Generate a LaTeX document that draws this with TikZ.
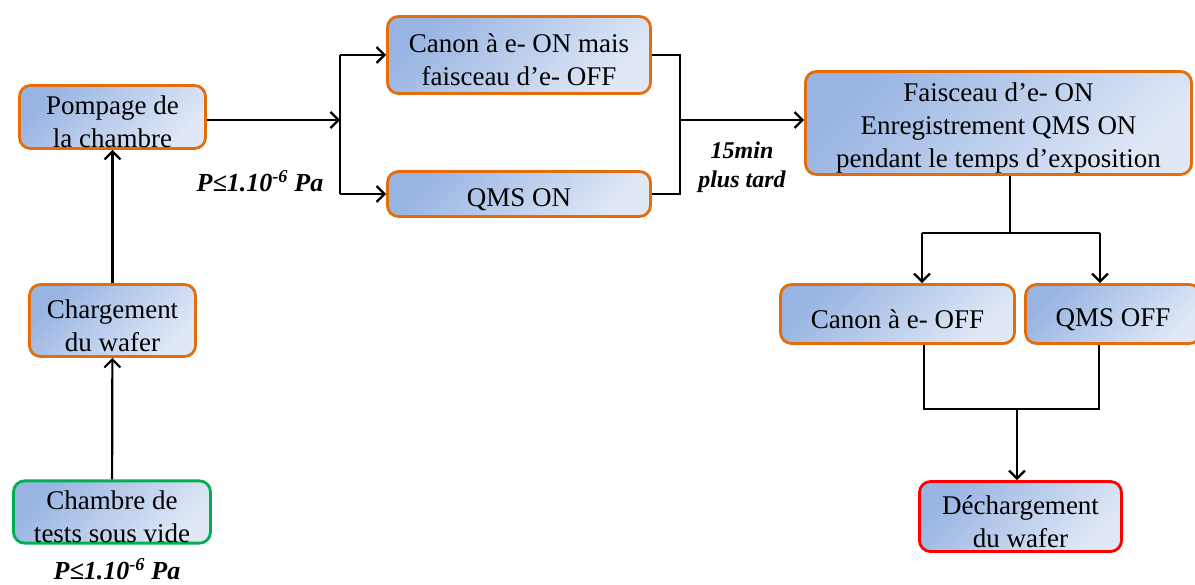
\documentclass[tikz,border=0pt]{standalone}
\usepackage{fontspec}
\setmainfont{Liberation Serif}
\usetikzlibrary{arrows.meta,positioning,calc}
\definecolor{StepOrange}{RGB}{228,108,10}
\definecolor{StepGreen}{RGB}{0,176,80}
\definecolor{StepRed}{RGB}{255,0,0}
\definecolor{FillDark}{RGB}{152,180,226}
\definecolor{FillLight}{RGB}{224,232,246}
\newcommand{\boxlift}{\rule{0pt}{29pt}}

\begin{document}
\begin{tikzpicture}[x=1pt,y=-1pt,
  stepbox/.style={draw=StepOrange,line width=2.8pt,rounded corners=11pt,
    top color=FillDark,bottom color=FillLight,shading angle=45,
    align=center,inner sep=0pt,font=\fontsize{27}{33}\selectfont},
  note/.style={align=center,font=\fontsize{24}{29}\selectfont\bfseries\itshape},
  link/.style={line width=2.2pt},
  arr/.style={link,-{Straight Barb[length=8pt,width=16pt,line width=2.2pt]}}
]
  \useasboundingbox (0,0) rectangle (1195,585);

  % left column
  \node[stepbox,draw=StepGreen,minimum width=197pt,minimum height=59pt] (chambre) at (112,512) {\boxlift Chambre de\\tests sous vide};
  \node[stepbox,minimum width=166pt,minimum height=72pt] (charge) at (112.5,320.5) {\boxlift Chargement\\du wafer};
  \node[stepbox,minimum width=186pt,minimum height=63pt] (pompe) at (112.5,117) {\boxlift Pompage de\\la chambre};
  \node[note,font=\fontsize{26}{29}\selectfont\bfseries\itshape] (p1) at (117,569) {P≤1.10\textsuperscript{-6} Pa};

  % middle column
  \node[stepbox,minimum width=263pt,minimum height=77pt] (canon) at (519,55) {\boxlift Canon à e- ON mais\\faisceau d’e- OFF};
  \node[stepbox,minimum width=263pt,minimum height=45pt] (qmson) at (519,194) {\boxlift QMS ON};
  \node[note,font=\fontsize{26}{29}\selectfont\bfseries\itshape] (p2) at (260,181) {P≤1.10\textsuperscript{-6} Pa};
  \node[note] (delai) at (742,167) {15min\\plus tard};

  % right column
  \node[stepbox,minimum width=386pt,minimum height=103pt] (faisceau) at (998.5,123) {\boxlift Faisceau d’e- ON\\Enregistrement QMS ON\\pendant le temps d’exposition};
  \node[stepbox,minimum width=234pt,minimum height=59pt] (canonoff) at (897.5,314) {\boxlift Canon à e- OFF};
  \node[stepbox,minimum width=175pt,minimum height=59pt] (qmsoff) at (1113,314) {\boxlift QMS OFF};
  \node[stepbox,draw=StepRed,minimum width=202pt,minimum height=70pt] (decharge) at (1020.5,516.5) {\boxlift Déchargement\\du wafer};

  \coordinate (busL) at (340,120);
  \coordinate (busR) at (680,120);
  \coordinate (split) at (1010,233);
  \coordinate (join) at (1017,409);

  \draw[arr] (chambre) -- (charge);
  \draw[arr] (charge) -- (pompe);
  \draw[arr] (pompe.east |- busL) -- (busL);
  \draw[link] (busL |- canon.west) -- (busL |- qmson.west);
  \draw[arr] (busL |- canon.west) -- (canon.west);
  \draw[arr] (busL |- qmson.west) -- (qmson.west);
  \draw[link] (canon.east) -| (busR |- qmson.east) -- (qmson.east);
  \draw[arr] (busR) -- (busR -| faisceau.west);
  \draw[link] (split |- faisceau.south) -- (split);
  \draw[link] (split -| 922,0) -- (split -| 1100,0);
  \draw[arr] (split -| 922,0) -- (canonoff.north -| 922,0);
  \draw[arr] (split -| 1100,0) -- (qmsoff.north -| 1100,0);
  \draw[link] (canonoff.south -| 924,0) |- (join) -| (qmsoff.south -| 1099,0);
  \draw[arr] (join) -- (decharge.north -| join);
\end{tikzpicture}
\end{document}
